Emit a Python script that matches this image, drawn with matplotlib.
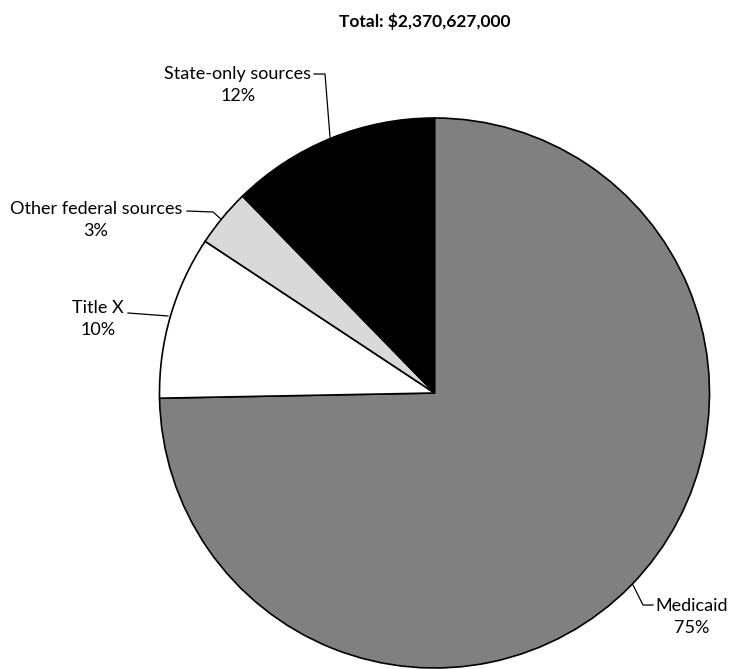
import matplotlib
matplotlib.use("Agg")
import matplotlib.pyplot as plt

plt.rcParams['font.family'] = ['Lato', 'DejaVu Sans']

# data
categories = ["Medicaid", "Title X", "Other federal sources", "State-only sources"]
shares = [74.7, 9.6, 3.4, 12.3]
pct_labels = ["75%", "10%", "3%", "12%"]
colors = ["#808080", "#ffffff", "#d9d9d9", "#000000"]
title = "Total: $2,370,627,000"

W, H = 732, 669
fig = plt.figure(figsize=(W / 100, H / 100), dpi=100)
ax = fig.add_axes([0, 0, 1, 1])


def py(y):
    # pixel row (top-down) -> data y (bottom-up)
    return H - y


cx, cy, r = 434.5, 393, 275
ax.pie(shares, colors=colors, startangle=90, counterclock=False,
       center=(cx, py(cy)), radius=r, frame=True,
       wedgeprops=dict(edgecolor="black", linewidth=1.2))
ax.set_xlim(0, W)
ax.set_ylim(0, H)
ax.set_aspect("equal")
ax.axis("off")

ax.text(424.5, py(22), title, ha="center", va="center",
        fontsize=12.5, fontweight="bold")

# label text position and leader line path (pixel coords)
label_pos = [(692, 617), (98, 319), (96, 220), (238, 85)]
leaders = [
    [(633, 585), (643, 605), (653, 605)],
    [(128, 313), (168, 316)],
    [(187, 211), (213, 212), (221, 219)],
    [(314, 74), (325, 74), (330, 137)],
]
for cat, pct, (tx, ty), path in zip(categories, pct_labels, label_pos, leaders):
    ax.text(tx, py(ty), cat + "\n" + pct, ha="center", va="center",
            fontsize=13, linespacing=1.45)
    xs = [p[0] for p in path]
    ys = [py(p[1]) for p in path]
    ax.plot(xs, ys, color="black", linewidth=0.9)

fig.savefig("out.png", dpi=100)
